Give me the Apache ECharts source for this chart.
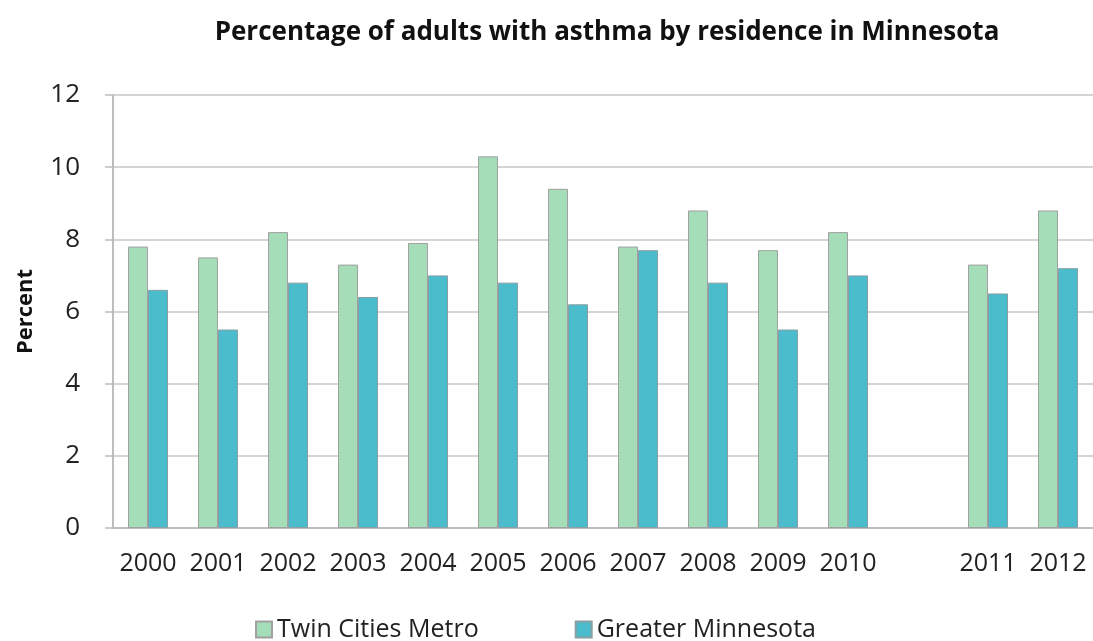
<!DOCTYPE html>
<html>
<head>
<meta charset="utf-8">
<script src="https://cdn.jsdelivr.net/npm/echarts@6/dist/echarts.min.js"></script>
<style>
    html, body { margin: 0; padding: 0; background: #fff; }
    #chart { width: 1093px; height: 641px; }
</style>
</head>
<body>
<div id="chart"></div>
<script>
    // 2011 and 2012 sit after an empty slot, as in the original
    var years = ['2000', '2001', '2002', '2003', '2004', '2005', '2006', '2007', '2008', '2009', '2010', '', '2011', '2012']
    var twinCities = [7.8, 7.5, 8.2, 7.3, 7.9, 10.3, 9.4, 7.8, 8.8, 7.7, 8.2, '-', 7.3, 8.8]
    var greaterMN = [6.6, 5.5, 6.8, 6.4, 7.0, 6.8, 6.2, 7.7, 6.8, 5.5, 7.0, '-', 6.5, 7.2]
    var yTicks = [0, 2, 4, 6, 8, 10, 12]

    var font = '"Open Sans", sans-serif'

    var option = {
        animation: false,
        backgroundColor: '#fff',
        title: {
            text: 'Percentage of adults with asthma by residence in Minnesota',
            left: 602,
            textAlign: 'center',
            top: 15,
            textStyle: {
                fontFamily: font,
                fontWeight: 'bold',
                fontSize: 26,
                color: '#111'
            }
        },
        legend: {
            top: 612,
            left: 250,
            itemWidth: 16,
            itemHeight: 16,
            itemGap: 96,
            icon: 'rect',
            textStyle: {
                fontFamily: font,
                fontSize: 25,
                color: '#222'
            },
            data: ['Twin Cities Metro', 'Greater Minnesota']
        },
        grid: {
            left: 113,
            right: 0,
            top: 95,
            bottom: 113
        },
        xAxis: {
            type: 'category',
            data: years,
            axisLine: { lineStyle: { color: '#bdbdbd', width: 2 } },
            axisTick: { length: 7, lineStyle: { color: '#bdbdbd', width: 1.5 } },
            axisLabel: {
                fontFamily: font,
                fontSize: 25,
                color: '#222',
                margin: 23,
                interval: 0
            }
        },
        yAxis: {
            type: 'value',
            min: yTicks[0],
            max: yTicks[yTicks.length - 1],
            interval: 2,
            name: 'Percent',
            nameLocation: 'middle',
            nameGap: 76,
            nameTextStyle: {
                fontFamily: font,
                fontWeight: 'bold',
                fontSize: 22,
                color: '#111'
            },
            axisLine: { show: true, lineStyle: { color: '#bdbdbd', width: 2 } },
            axisTick: { show: true, length: 8, lineStyle: { color: '#bdbdbd', width: 1.5 } },
            axisLabel: {
                fontFamily: font,
                fontSize: 26,
                color: '#222',
                margin: 33
            },
            splitLine: { lineStyle: { color: '#d4d4d4', width: 2 } }
        },
        series: [
            {
                name: 'Twin Cities Metro',
                type: 'bar',
                data: twinCities,
                barWidth: 20,
                barGap: '0%',
                itemStyle: {
                    color: '#a6ddb9',
                    borderColor: '#a0a0a0',
                    borderWidth: 1
                }
            },
            {
                name: 'Greater Minnesota',
                type: 'bar',
                data: greaterMN,
                barWidth: 20,
                itemStyle: {
                    color: '#4abccb',
                    borderColor: '#8a9ea3',
                    borderWidth: 1
                }
            }
        ]
    }

    var myChart = echarts.init(document.getElementById('chart'))
    myChart.setOption(option)
</script>
</body>
</html>
